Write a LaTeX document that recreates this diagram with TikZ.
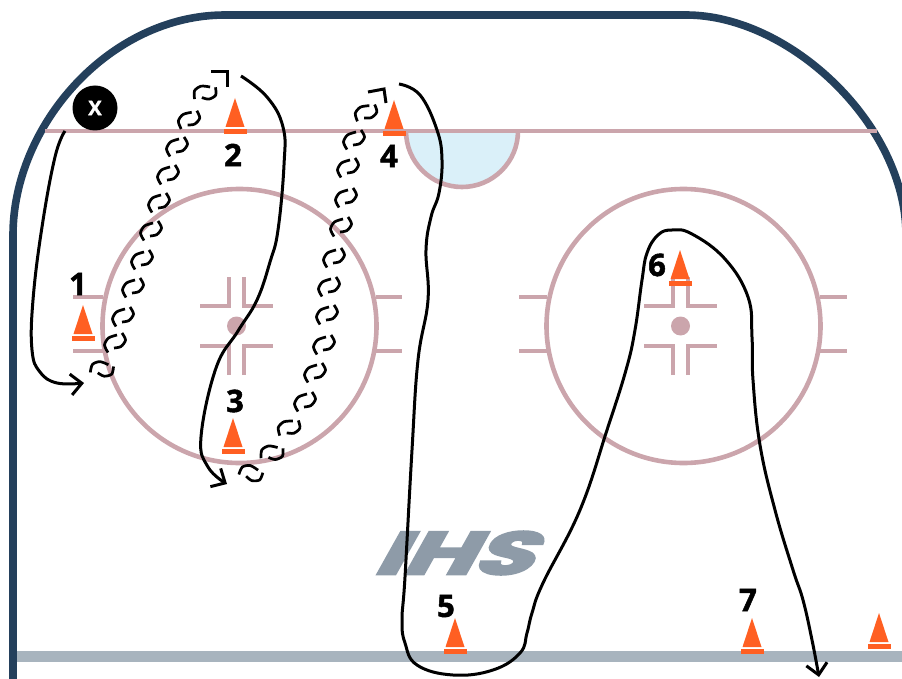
\documentclass[tikz,border=0pt]{standalone}
\usepackage{fontspec}
\usepackage{xcolor}
\usetikzlibrary{arrows.meta}
\newfontfamily\numfont[FakeBold=1.6]{Open Sans}
\newfontfamily\logofont[FakeSlant=0.35,FakeBold=4]{Poppins}
\definecolor{wallblue}{HTML}{24405C}
\definecolor{rinkred}{HTML}{CBA5AC}
\definecolor{goalgray}{HTML}{A8B4BE}
\definecolor{creaseblue}{HTML}{DAF0F9}
\definecolor{conecol}{HTML}{FF5F22}
\definecolor{logogray}{HTML}{8E9BA8}

\begin{document}
\begin{tikzpicture}[
  x=1pt, y=-1pt,
  wall/.style={draw=wallblue, line width=7.6pt},
  rink/.style={draw=rinkred, line width=4.6pt},
  skate/.style={draw=black, line width=3pt},
  skatearr/.style={skate, -{Straight Barb[length=11pt,width=21pt,line width=3pt]}},
  num/.style={font=\numfont\bfseries\fontsize{31}{31}\selectfont, inner sep=0pt},
  cone/.pic={
    \fill[conecol] (0,0) -- (9.5,29) -- (-9.5,29) -- cycle;
    \fill[conecol] (-11.5,31) rectangle (11.5,36);
  },
  wiggle/.pic={
    \draw[skate, line width=2.7pt] plot[smooth] coordinates {(3,-8) (-5.5,-5) (-9.5,2) (-6,9.5)};
    \draw[skate, line width=2.7pt] plot[smooth] coordinates {(0,5) (7,3.5) (11.5,-3) (8,-10)};
  },
  hashes/.pic={
    \draw[rink] (-7.5,-49) -- (-7.5,-20) -- (-36.5,-20);
    \draw[rink] (7.5,-49) -- (7.5,-20) -- (36.5,-20);
    \draw[rink] (-7.5,49) -- (-7.5,20) -- (-36.5,20);
    \draw[rink] (7.5,49) -- (7.5,20) -- (36.5,20);
    \fill[rinkred] (0,0) circle[radius=9.5pt];
  }
]
\useasboundingbox (0,0) rectangle (902,679);

% Boards and goal line
\draw[wall] (13,679) -- (13,235) .. controls (13,125) and (110,15) .. (225,15)
  -- (686,15) .. controls (790,15) and (906,125) .. (906,235);
\draw[draw=goalgray, line width=11pt] (17,656.5) -- (902,656.5);

% Crease and blue line
\draw[rink, fill=creaseblue] (406,131) arc[start angle=180, end angle=360, radius=56pt];
\draw[rink] (45,131) -- (877,131);

% Left face-off circle
\draw[rink] (239.5,326) circle[radius=137pt];
\draw[rink] (73,297) -- (103,297);
\draw[rink] (73,351) -- (103,351);
\draw[rink] (376,297) -- (402,297);
\draw[rink] (376,351) -- (402,351);
\pic at (236.5,326) {hashes};

% Right face-off circle
\draw[rink] (683.5,326) circle[radius=137pt];
\draw[rink] (519,297) -- (547,297);
\draw[rink] (519,351) -- (547,351);
\draw[rink] (820,297) -- (847,297);
\draw[rink] (820,351) -- (847,351);
\pic at (680.5,326) {hashes};

% Logo
\node[font=\logofont\bfseries\fontsize{60}{60}\selectfont, text=logogray, inner sep=0pt, xscale=1.6, transform shape] (logo) at (451,553) {IHS};

% Cones
\pic at (83,305) {cone};
\pic at (235,98) {cone};
\pic at (233,418) {cone};
\pic at (394,100) {cone};
\pic at (455,618) {cone};
\pic at (680,250) {cone};
\pic at (752,618) {cone};
\pic at (879,613) {cone};

% Cone numbers
\node[num] (n1) at (78,284) {1};
\node[num] (n2) at (233,155) {2};
\node[num] (n3) at (235,401) {3};
\node[num] (n4) at (389,156) {4};
\node[num] (n5) at (446,606) {5};
\node[num] (n6) at (657,265) {6};
\node[num] (n7) at (748,600) {7};

% Player
\node[circle, fill=black, minimum size=45pt, inner sep=0pt, text=white,
  font=\numfont\bfseries\fontsize{20}{20}\selectfont] (player) at (95,108) {X};

% Skating lines
\draw[skatearr] plot[smooth, tension=0.7] coordinates {(65,131) (55,157) (42,227) (33,300) (32,350) (40,372) (57,383) (84,383)};
\draw[skatearr] plot[smooth, tension=0.7] coordinates {(241,76) (267,97) (283,127) (284,165) (278,230) (270,262) (257,300) (238,331) (216,368) (201,437) (208,467) (227,484)};
\draw[skatearr] plot[smooth, tension=0.7] coordinates {(399,84) (420,95) (437,130) (442,160) (439,193) (431,217) (426,250) (428,300) (418,360) (412,450) (405,577) (402,620) (405,643) (417,665) (453,675) (493,670) (520,653) (527,633) (532,613) (543,583) (580,510) (607,430) (626,370) (635,330) (642,280) (647,253) (658,235) (672,230) (692,234) (725,259) (748,297) (752,337) (753,380) (760,445) (775,510) (793,570) (803,600) (812,640) (819,677)};

% Puck carrying lines
\foreach \x/\y/\r in {101/369/-40, 114/343/0, 122/317/0, 132/288/0, 141/260/0, 150/231/0, 158/203/0, 167/175/0, 176/147/0, 188/120/-5, 204/93/-25}
  \pic[rotate=\r] at (\x,\y) {wiggle};
\draw[skate] (211,72) -- (227,72) -- (227,87);

\foreach \x/\y/\r in {250/473/-50, 271/453/-30, 288/428/-15, 304/402/0, 314/373/0, 323/345/0, 326/315/0, 328/287/0, 333/258/0, 340/227/0, 345/198/0, 347/168/0, 353/140/0, 365/113/-10}
  \pic[rotate=\r] at (\x,\y) {wiggle};
\draw[skate] (368,92) -- (384,89) -- (386,103);

\end{tikzpicture}
\end{document}
